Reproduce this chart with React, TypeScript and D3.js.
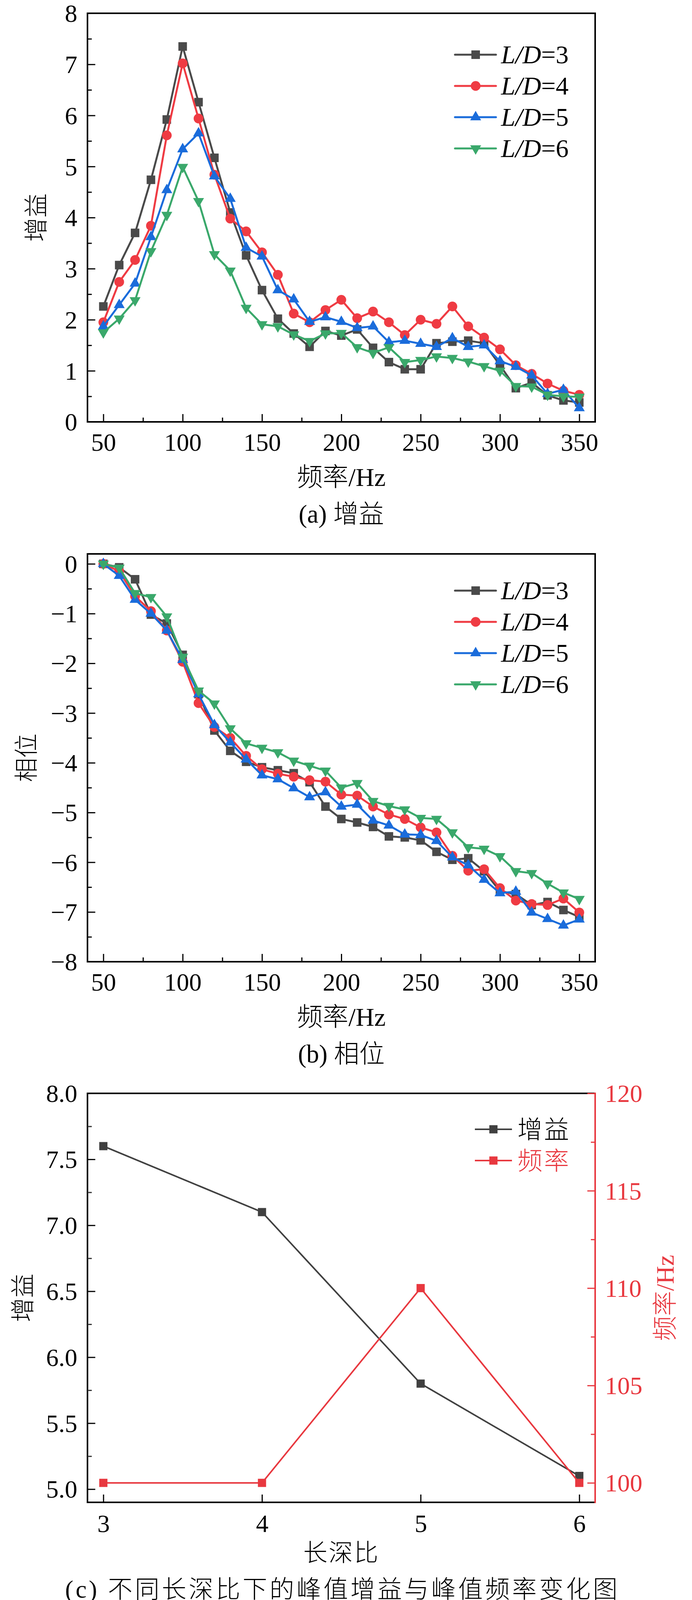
import { useEffect, useRef } from 'react';
import * as d3 from 'd3';

// frequency axis (Hz)
const FREQ = [50, 60, 70, 80, 90, 100, 110, 120, 130, 140, 150, 160, 170, 180, 190, 200,
  210, 220, 230, 240, 250, 260, 270, 280, 290, 300, 310, 320, 330, 340, 350];
const FREQ_MAJOR = [50, 100, 150, 200, 250, 300, 350];
const FREQ_MINOR = [75, 125, 175, 225, 275, 325];

// (a) gain
const GAIN_LD3 = [2.26, 3.07, 3.70, 4.74, 5.92, 7.35, 6.26, 5.17, 4.10, 3.26, 2.58, 2.02, 1.73, 1.47, 1.78, 1.69,
  1.81, 1.45, 1.17, 1.03, 1.03, 1.54, 1.57, 1.59, 1.54, 1.11, 0.66, 0.77, 0.52, 0.42, 0.38];
const GAIN_LD4 = [1.95, 2.74, 3.17, 3.84, 5.61, 7.02, 5.94, 4.84, 3.98, 3.73, 3.32, 2.88, 2.12, 1.95, 2.19, 2.39,
  2.03, 2.16, 1.95, 1.70, 2.00, 1.92, 2.26, 1.87, 1.65, 1.42, 1.11, 0.94, 0.75, 0.61, 0.53];
const GAIN_LD5 = [1.87, 2.29, 2.71, 3.62, 4.54, 5.34, 5.65, 4.81, 4.37, 3.41, 3.24, 2.58, 2.40, 1.96, 2.05, 1.96,
  1.84, 1.87, 1.56, 1.59, 1.53, 1.47, 1.64, 1.47, 1.50, 1.19, 1.08, 0.91, 0.55, 0.63, 0.27];
const GAIN_LD6 = [1.75, 2.02, 2.38, 3.34, 4.05, 4.99, 4.32, 3.28, 2.96, 2.23, 1.91, 1.87, 1.71, 1.58, 1.73, 1.74,
  1.46, 1.35, 1.46, 1.17, 1.21, 1.28, 1.25, 1.18, 1.09, 1.00, 0.70, 0.69, 0.53, 0.50, 0.49];

// (b) phase
const PHASE_LD3 = [0, -0.07, -0.31, -1.02, -1.20, -1.83, -2.62, -3.35, -3.76, -3.98, -4.09, -4.15, -4.21, -4.39, -4.88, -5.13,
  -5.20, -5.29, -5.48, -5.50, -5.56, -5.79, -5.95, -5.92, -6.18, -6.58, -6.64, -6.86, -6.80, -6.96, -7.10];
const PHASE_LD4 = [0, -0.15, -0.65, -0.95, -1.34, -1.97, -2.80, -3.28, -3.50, -3.86, -4.13, -4.22, -4.28, -4.35, -4.38, -4.64,
  -4.66, -4.88, -5.04, -5.13, -5.30, -5.40, -5.87, -6.17, -6.14, -6.52, -6.77, -6.84, -6.86, -6.73, -7.01];
const PHASE_LD5 = [0, -0.24, -0.72, -1.00, -1.34, -1.93, -2.62, -3.24, -3.59, -3.93, -4.25, -4.33, -4.51, -4.69, -4.59, -4.88,
  -4.84, -5.16, -5.26, -5.44, -5.45, -5.57, -5.90, -6.06, -6.35, -6.62, -6.59, -7.01, -7.14, -7.27, -7.15];
const PHASE_LD6 = [0, -0.08, -0.59, -0.67, -1.06, -1.87, -2.55, -2.81, -3.31, -3.61, -3.70, -3.79, -3.96, -4.06, -4.16, -4.50,
  -4.41, -4.77, -4.87, -4.94, -5.11, -5.13, -5.40, -5.70, -5.73, -5.88, -6.18, -6.22, -6.43, -6.61, -6.74];

const LD_LABELS = ['3', '4', '5', '6'];

// (c) peak values
const LD_RATIO = [3, 4, 5, 6];
const PEAK_GAIN = [7.6, 7.1, 5.8, 5.1];
const PEAK_FREQ = [100, 100, 110, 100];

const W = 1772;
const H = 4110;
const LEFT = 224;
const RIGHT = 1524;
const FONT = '"Liberation Serif", "Times New Roman", "Noto Sans CJK SC", serif';
const COLORS = ['#4a4a4a', '#ef3b43', '#1a6cdb', '#3aa86b'];
const SYMBOLS = [d3.symbolSquare, d3.symbolCircle, d3.symbolTriangle, d3.symbolTriangle];
const SYMBOL_SIZE = [480, 490, 340, 340];

type Sel = d3.Selection<SVGGElement, unknown, null, undefined>;

function styleAxis(a: Sel, color = '#000') {
  a.select('.domain').remove();
  a.attr('font-size', 64).attr('font-family', FONT);
  a.selectAll('line').attr('stroke', color).attr('stroke-width', 3);
  a.selectAll('text').attr('fill', color);
}

function marker(g: Sel, i: number, cx: number, cy: number) {
  g.append('path')
    .attr('d', d3.symbol().type(SYMBOLS[i]).size(SYMBOL_SIZE[i])() as string)
    .attr('transform', `translate(${cx},${cy})${i === 3 ? ' rotate(180)' : ''}`)
    .attr('fill', COLORS[i]);
}

function cjkText(g: Sel, size: number) {
  return g.append('text').attr('font-size', size).attr('font-family', FONT).attr('font-weight', 300);
}

interface PanelCfg {
  top: number;
  bottom: number;
  yDomain: [number, number];
  yMajor: number[];
  yMinor: number[];
  series: number[][];
  yTitle: string;
  yTitleX: number;
  legendY: number;
  caption: string;
}

function linePanel(root: Sel, cfg: PanelCfg) {
  const { top, bottom } = cfg;
  const x = d3.scaleLinear().domain([40, 360]).range([LEFT, RIGHT]);
  const y = d3.scaleLinear().domain(cfg.yDomain).range([bottom, top]);
  const g = root.append('g');

  g.append('rect')
    .attr('x', LEFT).attr('y', top)
    .attr('width', RIGHT - LEFT).attr('height', bottom - top)
    .attr('fill', 'none').attr('stroke', '#000').attr('stroke-width', 4);

  // x ticks (inward)
  g.append('g').attr('transform', `translate(0,${bottom})`)
    .call(d3.axisBottom(x).tickValues(FREQ_MINOR).tickSize(-11).tickSizeOuter(0).tickFormat(() => ''))
    .call(a => styleAxis(a));
  g.append('g').attr('transform', `translate(0,${bottom})`)
    .call(d3.axisBottom(x).tickValues(FREQ_MAJOR).tickSize(-20).tickSizeOuter(0).tickFormat(d3.format('d')))
    .call(a => { styleAxis(a); a.selectAll('text').attr('y', 74).attr('dy', 0); });

  // y ticks (inward)
  g.append('g').attr('transform', `translate(${LEFT},0)`)
    .call(d3.axisLeft(y).tickValues(cfg.yMinor).tickSize(-11).tickSizeOuter(0).tickFormat(() => ''))
    .call(a => styleAxis(a));
  g.append('g').attr('transform', `translate(${LEFT},0)`)
    .call(d3.axisLeft(y).tickValues(cfg.yMajor).tickSize(-20).tickSizeOuter(0).tickPadding(26).tickFormat(d3.format('d')))
    .call(a => { styleAxis(a); a.selectAll('text').attr('dy', '0.34em'); });

  // series
  const line = d3.line<number>().x((_, i) => x(FREQ[i])).y(d => y(d));
  cfg.series.forEach((vals, i) => {
    const s = g.append('g');
    s.append('path').attr('d', line(vals) as string)
      .attr('fill', 'none').attr('stroke', COLORS[i]).attr('stroke-width', 5).attr('stroke-linejoin', 'round');
    vals.forEach((v, j) => marker(s, i, x(FREQ[j]), y(v)));
  });

  // legend
  LD_LABELS.forEach((lab, i) => {
    const ly = cfg.legendY + i * 80;
    const lg = g.append('g');
    lg.append('line').attr('x1', 1165).attr('x2', 1270).attr('y1', ly).attr('y2', ly)
      .attr('stroke', COLORS[i]).attr('stroke-width', 5).attr('stroke-linecap', 'round');
    marker(lg, i, 1218, ly);
    const t = lg.append('text').attr('x', 1283).attr('y', ly).attr('dy', '0.33em')
      .attr('font-size', 66).attr('font-family', FONT);
    t.append('tspan').attr('font-style', 'italic').text('L/D');
    t.append('tspan').text('=' + lab);
  });

  // titles
  cjkText(g, 66).attr('x', (LEFT + RIGHT) / 2).attr('y', bottom + 164)
    .attr('text-anchor', 'middle').text('频率/Hz');
  cjkText(g, 65).attr('x', (LEFT + RIGHT) / 2).attr('y', bottom + 258)
    .attr('text-anchor', 'middle').text(cfg.caption);
  cjkText(g, 62)
    .attr('transform', `translate(${cfg.yTitleX},${(top + bottom) / 2}) rotate(-90)`)
    .attr('text-anchor', 'middle').attr('dy', '0.35em').text(cfg.yTitle);
}

function peakPanel(root: Sel) {
  const top = 2799;
  const bottom = 3846;
  const red = '#e8383f';
  const dark = '#404040';
  const x = d3.scaleLinear().domain([2.9, 6.1]).range([LEFT, RIGHT]);
  const yL = d3.scaleLinear().domain([4.9, 8.0]).range([bottom, top]);
  const yR = d3.scaleLinear().domain([99, 120]).range([bottom, top]);
  const g = root.append('g');

  // frame: left/top/bottom black, right red
  g.append('path').attr('d', `M${RIGHT},${top}H${LEFT}V${bottom}H${RIGHT}`)
    .attr('fill', 'none').attr('stroke', '#000').attr('stroke-width', 4);
  g.append('line').attr('x1', RIGHT).attr('x2', RIGHT).attr('y1', top - 2).attr('y2', bottom + 2)
    .attr('stroke', red).attr('stroke-width', 4);

  g.append('g').attr('transform', `translate(0,${bottom})`)
    .call(d3.axisBottom(x).tickValues(LD_RATIO).tickSize(-20).tickSizeOuter(0).tickFormat(d3.format('d')))
    .call(a => { styleAxis(a); a.selectAll('text').attr('y', 76).attr('dy', 0); });

  g.append('g').attr('transform', `translate(${LEFT},0)`)
    .call(d3.axisLeft(yL).tickValues([5.25, 5.75, 6.25, 6.75, 7.25, 7.75]).tickSize(-11).tickSizeOuter(0).tickFormat(() => ''))
    .call(a => styleAxis(a, '#333'));
  g.append('g').attr('transform', `translate(${LEFT},0)`)
    .call(d3.axisLeft(yL).tickValues([5.0, 5.5, 6.0, 6.5, 7.0, 7.5, 8.0]).tickSize(-20).tickSizeOuter(0).tickPadding(26).tickFormat(d3.format('.1f')))
    .call(a => { styleAxis(a, '#000'); a.selectAll('text').attr('dy', '0.34em'); });

  g.append('g').attr('transform', `translate(${RIGHT},0)`)
    .call(d3.axisRight(yR).tickValues([102.5, 107.5, 112.5, 117.5]).tickSize(-11).tickSizeOuter(0).tickFormat(() => ''))
    .call(a => styleAxis(a, red));
  g.append('g').attr('transform', `translate(${RIGHT},0)`)
    .call(d3.axisRight(yR).tickValues([100, 105, 110, 115, 120]).tickSize(-20).tickSizeOuter(0).tickPadding(25).tickFormat(d3.format('d')))
    .call(a => { styleAxis(a, red); a.selectAll('text').attr('dy', '0.34em'); });

  const gainLine = d3.line<number>().x((_, i) => x(LD_RATIO[i])).y(d => yL(d));
  const freqLine = d3.line<number>().x((_, i) => x(LD_RATIO[i])).y(d => yR(d));
  const sq = d3.symbol().type(d3.symbolSquare).size(441)() as string;

  g.append('path').attr('d', gainLine(PEAK_GAIN) as string)
    .attr('fill', 'none').attr('stroke', dark).attr('stroke-width', 4);
  PEAK_GAIN.forEach((v, i) => g.append('path').attr('d', sq)
    .attr('transform', `translate(${x(LD_RATIO[i])},${yL(v)})`).attr('fill', dark));

  g.append('path').attr('d', freqLine(PEAK_FREQ) as string)
    .attr('fill', 'none').attr('stroke', red).attr('stroke-width', 4);
  PEAK_FREQ.forEach((v, i) => g.append('path').attr('d', sq)
    .attr('transform', `translate(${x(LD_RATIO[i])},${yR(v)})`).attr('fill', red));

  // legend
  [['增益', dark, '#000'], ['频率', red, red]].forEach(([lab, c, tc], i) => {
    const ly = 2891 + i * 80;
    g.append('line').attr('x1', 1216).attr('x2', 1311).attr('y1', ly).attr('y2', ly)
      .attr('stroke', c).attr('stroke-width', 4);
    g.append('path').attr('d', sq).attr('transform', `translate(1263.5,${ly})`).attr('fill', c);
    cjkText(g, 64).attr('x', 1325).attr('y', ly).attr('dy', '0.36em')
      .attr('fill', tc).attr('letter-spacing', 4).text(lab);
  });

  cjkText(g, 62).attr('x', (LEFT + RIGHT) / 2).attr('y', 3997)
    .attr('text-anchor', 'middle').attr('letter-spacing', 3).text('长深比');
  cjkText(g, 63).attr('x', (LEFT + RIGHT) / 2 + 3).attr('y', 4090)
    .attr('text-anchor', 'middle').attr('letter-spacing', 6)
    .text('(c) 不同长深比下的峰值增益与峰值频率变化图');
  cjkText(g, 62)
    .attr('transform', `translate(59,${(top + bottom) / 2}) rotate(-90)`)
    .attr('text-anchor', 'middle').attr('dy', '0.35em').text('增益');
  cjkText(g, 64)
    .attr('transform', `translate(1703,${(top + bottom) / 2}) rotate(-90)`)
    .attr('text-anchor', 'middle').attr('dy', '0.35em')
    .attr('fill', red).text('频率/Hz');
}

export default function App() {
  const svgRef = useRef<SVGSVGElement>(null);

  useEffect(() => {
    if (!svgRef.current) return;
    const svg = d3.select(svgRef.current);
    svg.selectAll('*').remove();
    const root = svg.append('g') as unknown as Sel;

    linePanel(root, {
      top: 34, bottom: 1080,
      yDomain: [0, 8],
      yMajor: [0, 1, 2, 3, 4, 5, 6, 7, 8],
      yMinor: [0.5, 1.5, 2.5, 3.5, 4.5, 5.5, 6.5, 7.5],
      series: [GAIN_LD3, GAIN_LD4, GAIN_LD5, GAIN_LD6],
      yTitle: '增益', yTitleX: 93, legendY: 140,
      caption: '(a) 增益',
    });

    linePanel(root, {
      top: 1418, bottom: 2462,
      yDomain: [-8, 0.2],
      yMajor: [0, -1, -2, -3, -4, -5, -6, -7, -8],
      yMinor: [-0.5, -1.5, -2.5, -3.5, -4.5, -5.5, -6.5, -7.5],
      series: [PHASE_LD3, PHASE_LD4, PHASE_LD5, PHASE_LD6],
      yTitle: '相位', yTitleX: 68, legendY: 1512,
      caption: '(b) 相位',
    });

    peakPanel(root);
  }, []);

  return (
    <svg
      ref={svgRef}
      width={W}
      height={H}
      viewBox={`0 0 ${W} ${H}`}
      style={{ position: 'absolute', left: 0, top: 0, background: '#fff', display: 'block' }}
    />
  );
}
